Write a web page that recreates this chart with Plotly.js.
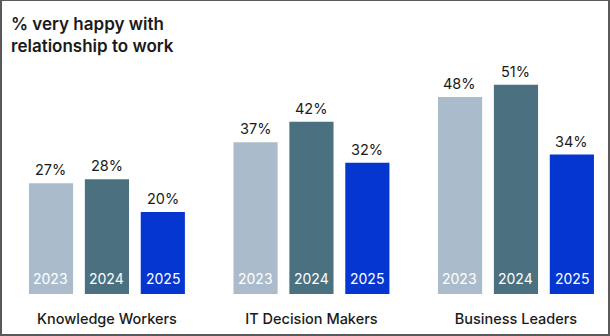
<!DOCTYPE html>
<html>
<head>
<meta charset="utf-8">
<script src="https://cdn.plot.ly/plotly-3.0.1.min.js"></script>
<style>
  html, body { margin: 0; padding: 0; background: #ffffff; }
  #frame { position: absolute; left: 0; top: 0; width: 610px; height: 336px; box-sizing: border-box;
           border-top: 1px solid #5a5a5a; border-left: 2px solid #5a5a5a; border-right: 2px solid #5a5a5a; border-bottom: 2px solid #5a5a5a; }
  #chart { width: 606px; height: 333px; }
</style>
</head>
<body>
<div id="frame"><div id="chart"></div></div>
<script>
const categories = ["Knowledge Workers", "IT Decision Makers", "Business Leaders"];
const years = ["2023", "2024", "2025"];
const values2023 = [27, 37, 48];
const values2024 = [28, 42, 51];
const values2025 = [20, 32, 34];
const colors = ["#aabccb", "#4b7181", "#0636d0"];
const titleText = "% very happy with<br>relationship to work";

const series = [values2023, values2024, values2025];
const FONT = "Inter, 'Noto Sans', sans-serif";

const traces = series.map((vals, i) => ({
  type: "bar",
  x: categories,
  y: vals,
  name: years[i],
  marker: { color: colors[i] },
  hoverinfo: "skip"
}));

const annotations = [];
series.forEach((vals, i) => {
  vals.forEach((v, j) => {
    annotations.push({
      x: categories[j], y: v, xref: "x", yref: "y",
      xshift: (i - 1) * 56,
      yanchor: "bottom", yshift: 3,
      text: v + "%", showarrow: false,
      font: { family: FONT, size: 14.5, color: "#1a1a1a" }
    });
    annotations.push({
      x: categories[j], y: 0, xref: "x", yref: "y",
      xshift: (i - 1) * 56,
      yanchor: "bottom", yshift: 5,
      text: years[i], showarrow: false,
      font: { family: FONT, size: 14, color: "#ffffff" }
    });
  });
});

annotations.push({
  x: 0.011, xref: "paper", xanchor: "left",
  y: 1.212, yref: "paper", yanchor: "top",
  align: "left", showarrow: false,
  text: titleText,
  font: { family: FONT, size: 17, color: "#1a1a1a", weight: 600 }
});

const layout = {
  width: 606, height: 333,
  margin: { l: 0, r: 0, t: 60, b: 40 },
  paper_bgcolor: "#ffffff", plot_bgcolor: "#ffffff",
  showlegend: false,
  barmode: "group",
  bargap: 0.18,
  bargroupgap: 0.21,
  xaxis: {
    range: [-0.513, 2.45],
    showgrid: false, zeroline: false, showline: false,
    ticks: "", ticklabelstandoff: 14,
    tickfont: { family: FONT, size: 14.5, color: "#1a1a1a", weight: 500 }
  },
  yaxis: {
    range: [0, 56.8],
    visible: false, showgrid: false, zeroline: false
  },
  annotations: annotations
};

Plotly.newPlot("chart", traces, layout, { displayModeBar: false, staticPlot: true });
</script>
</body>
</html>
